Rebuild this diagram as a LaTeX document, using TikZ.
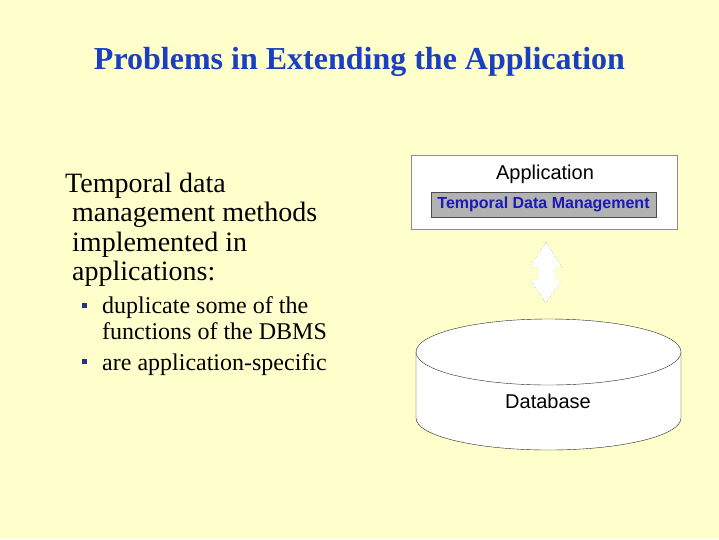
\documentclass[tikz,border=0pt]{standalone}
\usepackage{fontspec}
\setmainfont{Liberation Serif}
\newfontfamily\arialfont{Liberation Sans}
\usetikzlibrary{positioning}

\definecolor{slidebg}{HTML}{FFFFCC}
\definecolor{titleblue}{HTML}{1A3FC0}
\definecolor{tdmblue}{HTML}{1A1AB4}
\definecolor{tdmgray}{HTML}{B2B2B2}
\definecolor{bulletnavy}{HTML}{26328A}

\tikzset{
  bodytext/.style={anchor=base west,inner sep=0pt,font=\fontsize{28}{30}\selectfont},
  subtext/.style={anchor=base west,inner sep=0pt,font=\fontsize{24}{26}\selectfont},
  sqbullet/.style={fill=bulletnavy,inner sep=0pt,minimum size=5pt},
  sanslabel/.style={anchor=base,inner sep=0pt,font=\arialfont\fontsize{20}{24}\selectfont}
}

\begin{document}
\begin{tikzpicture}[x=1pt,y=-1pt]
\fill[slidebg] (0,0) rectangle (719,539);
\useasboundingbox (0,0) rectangle (719,539);

\node[anchor=base,inner sep=0pt,text=titleblue,font=\fontsize{32}{36}\selectfont\bfseries] (title) at (359.5,69) {Problems in Extending the Application};

% left column
\node[bodytext] (body_a) at (65,192) {Temporal data};
\node[bodytext] (body_b) at (72,221.5) {management methods};
\node[bodytext] (body_c) at (72,251) {implemented in};
\node[bodytext] (body_d) at (72,280) {applications:};

\node[sqbullet] (sq_a) at (84.5,305) {};
\node[subtext] (sub_a) at (102,313) {duplicate some of the};
\node[subtext] (sub_b) at (102,339) {functions of the DBMS};
\node[sqbullet] (sq_b) at (84.5,361) {};
\node[subtext] (sub_c) at (102,370) {are application-specific};

% application box
\node[draw=black!45,fill=white,minimum width=266,minimum height=74,inner sep=0pt] (app) at (544,192) {};
\node[sanslabel] (app_lbl) at (545,179) {Application};
\node[draw=black!70,fill=tdmgray,minimum width=225,minimum height=25,inner sep=0pt,text=tdmblue,font=\arialfont\fontsize{16}{18}\selectfont\bfseries] (tdm) at (543.5,204.5) {Temporal Data Management};

% two-way arrow
\draw[black!55,dotted,fill=white] (546,242) -- (562,267) -- (555,267) -- (555,280) -- (562,280) -- (546,303)
  -- (530,280) -- (538,280) -- (538,267) -- (530,267) -- cycle;

% database cylinder
\draw[black!85,fill=white] (416,352) -- (416,418) arc[start angle=180,end angle=0,x radius=132.5,y radius=32] -- (681,352);
\draw[black!85,fill=white] (548.5,352) ellipse[x radius=132.5,y radius=33];
\node[sanslabel] (db) at (548,408) {Database};
\end{tikzpicture}
\end{document}
